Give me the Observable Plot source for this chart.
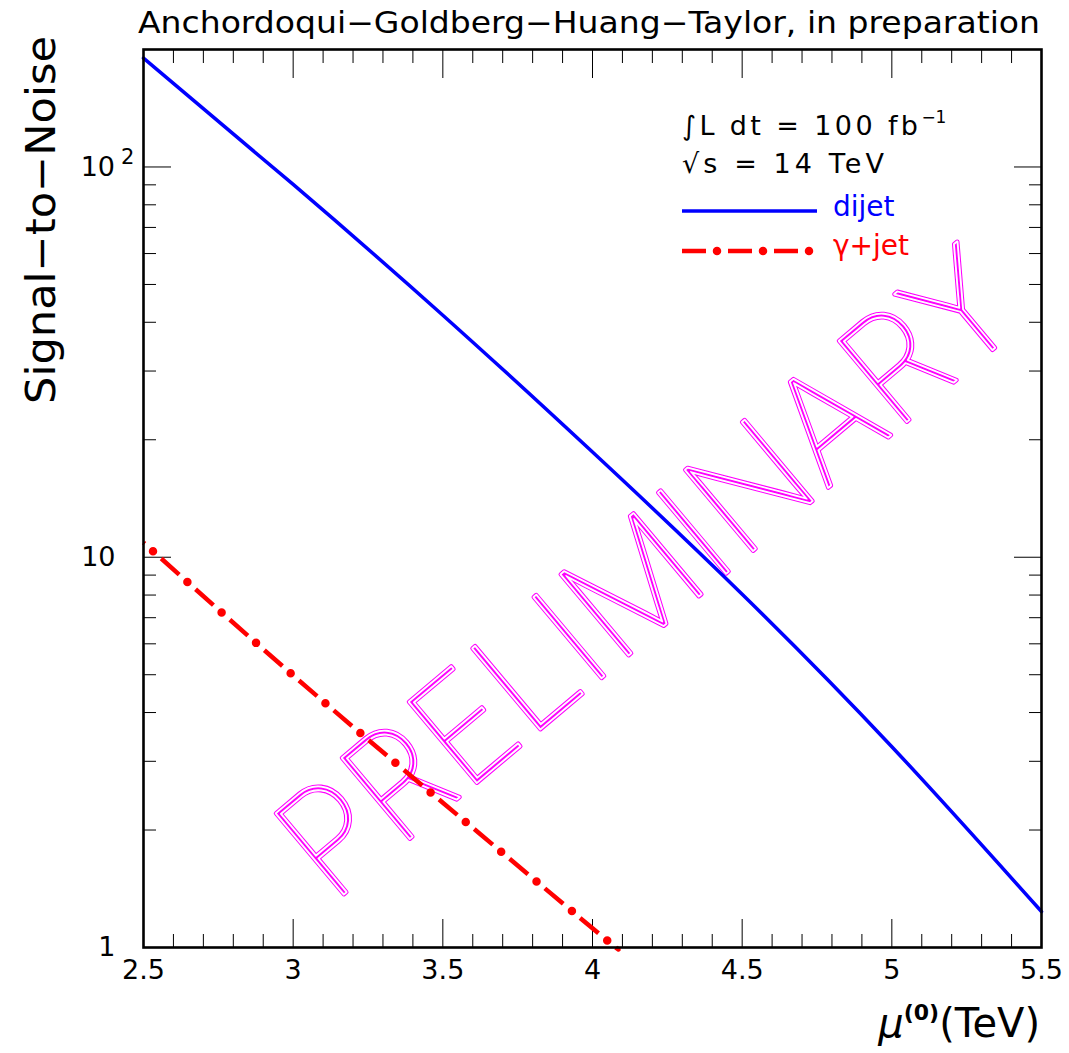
<!DOCTYPE html>
<html><head><meta charset="utf-8">
<script src="https://cdn.jsdelivr.net/npm/d3@7"></script>
<script src="https://cdn.jsdelivr.net/npm/@observablehq/plot@0.6"></script>
<style>body{margin:0;background:#fff} svg{display:block}</style>
</head><body><div id="chart"></div>
<script>
// ---- data ----
const muDijet = [2.5, 3.0, 3.5, 4.0, 4.5, 5.0, 5.5];
const snDijet = [190, 90.2, 41.7, 18.6, 8.04, 3.27, 1.236];
const muGamma = [2.5, 3.0, 3.5, 4.0, 4.08];
const snGamma = [10.9, 4.98, 2.35, 1.12, 1.0];

const xMajor = [2.5, 3, 3.5, 4, 4.5, 5, 5.5];
const xMinor = [2.6, 2.7, 2.8, 2.9, 3.1, 3.2, 3.3, 3.4, 3.6, 3.7, 3.8, 3.9,
                4.1, 4.2, 4.3, 4.4, 4.6, 4.7, 4.8, 4.9, 5.1, 5.2, 5.3, 5.4];
const xLabels = ["2.5", "3", "3.5", "4", "4.5", "5", "5.5"];
const yMajor = [1, 10, 100];
const yMinor = [2, 3, 4, 5, 6, 7, 8, 9, 20, 30, 40, 50, 60, 70, 80, 90];
const yLabels = ["1", "10"];

const titleText = "Anchordoqui\u2212Goldberg\u2212Huang\u2212Taylor, in preparation";
const yTitle = "Signal\u2212to\u2212Noise";
const legendLines = ["\u222BL dt = 100 fb", "\u221As = 14 TeV"];
const seriesNames = ["dijet", "\u03B3+jet"];
const watermarkText = "PRELIMINARY";

const dijet = muDijet.map((m, i) => ({mu: m, sn: snDijet[i]}));
const gamma = muGamma.map((m, i) => ({mu: m, sn: snGamma[i]}));

const BLUE = "#0000ff", RED = "#ff0000", MAG = "#ff00ff";
const FONT = "DejaVu Sans";

const chart = Plot.plot({
  width: 1069, height: 1053,
  marginLeft: 143, marginRight: 28, marginTop: 49, marginBottom: 106,
  x: {domain: [2.5, 5.5]},
  y: {type: "log", domain: [1, 200]},
  style: {fontFamily: FONT, fontSize: "25px", color: "black", background: "white"},
  marks: [
    // inward ticks on all four sides
    Plot.axisX({ticks: xMajor, anchor: "bottom", tickSize: -28, fill: "none", label: null}),
    Plot.axisX({ticks: xMinor, anchor: "bottom", tickSize: -13, fill: "none", label: null}),
    Plot.axisX({ticks: xMajor, anchor: "top", tickSize: -28, fill: "none", label: null}),
    Plot.axisX({ticks: xMinor, anchor: "top", tickSize: -13, fill: "none", label: null}),
    Plot.axisY({ticks: yMajor, anchor: "left", tickSize: -28, fill: "none", label: null}),
    Plot.axisY({ticks: yMinor, anchor: "left", tickSize: -13, fill: "none", label: null}),
    Plot.axisY({ticks: yMajor, anchor: "right", tickSize: -28, fill: "none", label: null}),
    Plot.axisY({ticks: yMinor, anchor: "right", tickSize: -13, fill: "none", label: null}),
    // tick labels
    Plot.axisX({ticks: xMajor, anchor: "bottom", tickSize: 0, tickPadding: 12, fontSize: 27,
                tickFormat: d => xLabels[xMajor.indexOf(d)], label: null}),
    Plot.axisY({ticks: [1, 10], anchor: "left", tickSize: 0, tickPadding: 28, fontSize: 27,
                tickFormat: d => yLabels[yMajor.indexOf(d)], label: null}),
    // curves
    Plot.line(dijet, {x: "mu", y: "sn", stroke: BLUE, strokeWidth: 3.5, curve: "natural"}),
    Plot.line(gamma, {x: "mu", y: "sn", stroke: RED, strokeWidth: 4.5, curve: "natural",
                      strokeDasharray: "24 22", strokeDashoffset: 22.3, strokeLinecap: "butt"}),
    Plot.line(gamma, {x: "mu", y: "sn", stroke: RED, strokeWidth: 8.5, curve: "natural",
                      strokeDasharray: "0 46", strokeDashoffset: 33.3, strokeLinecap: "round"}),
    Plot.frame({stroke: "black", strokeWidth: 2.6})
  ]
});

document.getElementById("chart").appendChild(chart);
const svg = d3.select(chart);
const ys = chart.scale("y");
const txt = () => svg.append("text").attr("text-anchor", "start").attr("font-family", FONT).attr("fill", "black");

// 10^2 label
const y100 = ys.apply(100);
txt().attr("text-anchor", "end").attr("font-size", 27).attr("x", 115).attr("y", y100 + 10).text("10");
txt().attr("font-size", 21).attr("x", 121).attr("y", y100 - 2).text("2");

// watermark, inserted below the data lines
const firstLine = svg.select('g[aria-label="line"]').node();
const wm = d3.create("svg:g").attr("transform", "translate(680,612) rotate(-40)");
const wmLayers = [
  {fill: MAG, stroke: MAG, sw: 4.6},
  {fill: "white", stroke: "white", sw: 2.4},
  {fill: MAG, stroke: "white", sw: 1.2}
];
for (const L of wmLayers) {
  wm.append("text").attr("text-anchor", "middle").attr("font-family", "Inter").attr("font-weight", 100)
    .attr("font-size", 145).attr("textLength", 910).attr("lengthAdjust", "spacingAndGlyphs")
    .attr("fill", L.fill).attr("stroke", L.stroke).attr("stroke-width", L.sw).attr("stroke-linejoin", "round")
    .text(watermarkText);
}
chart.insertBefore(wm.node(), firstLine);

// title
txt().attr("x", 138).attr("y", 33).attr("font-size", 30)
  .attr("textLength", 902).attr("lengthAdjust", "spacingAndGlyphs").text(titleText);

// y title
txt().attr("transform", "translate(55,404) rotate(-90)")
  .attr("font-size", 40).attr("textLength", 368).attr("lengthAdjust", "spacingAndGlyphs").text(yTitle);

// x title
const xt = txt().attr("x", 1040).attr("y", 1037).attr("text-anchor", "end").attr("font-size", 40);
xt.append("tspan").attr("font-style", "italic").text("\u03BC");
xt.append("tspan").attr("font-size", 22).attr("font-weight", "bold").attr("dy", -17).text("(0)");
xt.append("tspan").attr("dy", 17).text("(TeV)");

// legend
const l1 = txt().attr("x", 682).attr("y", 135).attr("font-size", 27);
l1.append("tspan").attr("textLength", 236).attr("lengthAdjust", "spacing").text(legendLines[0]);
l1.append("tspan").attr("font-size", 17).attr("dy", -12).text("\u22121");
txt().attr("x", 682).attr("y", 173).attr("font-size", 27)
  .attr("textLength", 202).attr("lengthAdjust", "spacing").text(legendLines[1]);

svg.append("path").attr("d", "M682,211H817").attr("stroke", BLUE).attr("stroke-width", 3.5);
txt().attr("x", 833).attr("y", 216).attr("font-size", 28).attr("fill", BLUE).text(seriesNames[0]);

svg.append("path").attr("d", "M682,251H812").attr("stroke", RED).attr("stroke-width", 4.5)
  .attr("stroke-dasharray", "24 22");
svg.append("path").attr("d", "M682,251H812").attr("stroke", RED).attr("stroke-width", 8.5)
  .attr("stroke-dasharray", "0 46").attr("stroke-dashoffset", 11).attr("stroke-linecap", "round");
txt().attr("x", 833).attr("y", 255).attr("font-size", 28).attr("fill", RED).text(seriesNames[1]);
</script>
</body></html>
